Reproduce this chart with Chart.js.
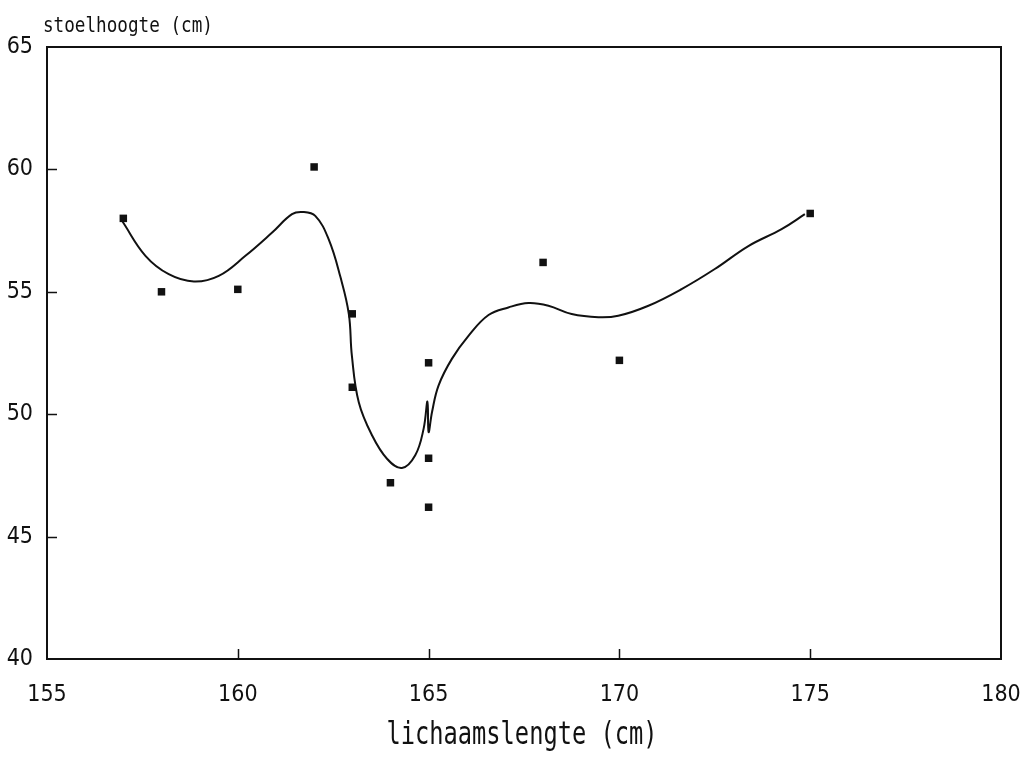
<!DOCTYPE html>
<html>
<head>
<meta charset="utf-8">
<script src="https://cdn.jsdelivr.net/npm/chart.js@4/dist/chart.umd.min.js"></script>
<style>
  html, body { margin: 0; padding: 0; background: #ffffff; }
  #wrap { width: 1024px; height: 762px; position: relative; }
</style>
</head>
<body>
<div id="wrap"><canvas id="chart_stoel"></canvas></div>
<script>
// measured points (lichaamslengte, stoelhoogte)
const lengte_points = [157, 158, 160, 162, 163, 163, 164, 165, 165, 165, 168, 170, 175];
const stoel_points = [58.0, 55.0, 55.1, 60.1, 54.1, 51.1, 47.2, 52.1, 48.2, 46.2, 56.2, 52.2, 58.2];

// smoothed curve
const curve_x = [156.97, 157.58, 158.19, 158.85, 159.5, 160.2, 160.9, 161.42, 161.7, 162.03,
    162.38, 162.69, 162.91, 162.99, 163.17, 163.52, 163.91, 164.3, 164.65, 164.87,
    164.97, 165.0, 165.09, 165.26, 165.61, 166.05, 166.57, 167.09, 167.62, 168.14,
    168.75, 169.45, 169.97, 170.76, 171.63, 172.5, 173.38, 174.25, 174.86];
const curve_y = [57.89, 56.47, 55.72, 55.42, 55.65, 56.47, 57.42, 58.17, 58.26, 58.1,
    57.15, 55.6, 54.09, 52.38, 50.49, 49.13, 48.18, 47.8, 48.32, 49.41,
    50.52, 49.27, 50.09, 51.17, 52.26, 53.21, 54.05, 54.36, 54.54, 54.43,
    54.09, 53.96, 54.02, 54.43, 55.11, 55.93, 56.87, 57.56, 58.17];

const x_ticks = [155, 160, 165, 170, 175, 180];
const y_ticks = [40, 45, 50, 55, 60, 65];

const x_title = 'lichaamslengte (cm)';
const y_title = 'stoelhoogte (cm)';

const tick_font = { family: "'Liberation Sans Narrow', 'DejaVu Sans Condensed', 'Liberation Sans', sans-serif", size: 23 };

function zip_xy(xs, ys) {
    return xs.map((x, i) => ({ x: x, y: ys[i] }));
}

// box round the plot, inward tick marks and the condensed axis titles
const frame_plugin = {
    id: 'frame_plugin',
    afterDraw(chart) {
        const ctx = chart.ctx;
        const a = chart.chartArea;
        const xs = chart.scales.x;
        const ys = chart.scales.y;
        ctx.save();
        ctx.strokeStyle = '#111';
        ctx.lineWidth = 2;
        ctx.strokeRect(a.left, a.top, a.right - a.left, a.bottom - a.top);

        ctx.lineWidth = 1.5;
        ctx.beginPath();
        x_ticks.slice(1, -1).forEach((v) => {
            const px = Math.round(xs.getPixelForValue(v)) + 0.5;
            ctx.moveTo(px, a.bottom);
            ctx.lineTo(px, a.bottom - 10);
        });
        y_ticks.slice(1, -1).forEach((v) => {
            const py = Math.round(ys.getPixelForValue(v)) + 0.5;
            ctx.moveTo(a.left, py);
            ctx.lineTo(a.left + 10, py);
        });
        ctx.stroke();

        ctx.fillStyle = '#111';
        ctx.textBaseline = 'middle';

        ctx.save();
        ctx.font = "32px 'DejaVu Sans Mono', monospace";
        ctx.textAlign = 'center';
        ctx.translate(522, 736);
        ctx.scale(0.74, 1);
        ctx.fillText(x_title, 0, 0);
        ctx.restore();

        ctx.save();
        ctx.font = "21px 'DejaVu Sans Mono', monospace";
        ctx.textAlign = 'left';
        ctx.translate(43, 27);
        ctx.scale(0.84, 1);
        ctx.fillText(y_title, 0, 0);
        ctx.restore();

        ctx.restore();
    },
};

new Chart(document.getElementById('chart_stoel').getContext('2d'), {
    type: 'scatter',
    data: {
        datasets: [
            {
                label: 'curve',
                type: 'line',
                data: zip_xy(curve_x, curve_y),
                borderColor: '#111',
                borderWidth: 2,
                pointRadius: 0,
                fill: false,
                tension: 0.4,
            },
            {
                label: 'metingen',
                data: zip_xy(lengte_points, stoel_points),
                backgroundColor: '#111',
                borderColor: '#111',
                borderWidth: 0,
                pointStyle: 'rect',
                pointRadius: 5.3,
            },
        ],
    },
    options: {
        responsive: true,
        maintainAspectRatio: false,
        animation: false,
        layout: { padding: { top: 47, right: 0, left: 0, bottom: 0 } },
        plugins: {
            legend: { display: false },
            tooltip: { enabled: false },
        },
        scales: {
            x: {
                type: 'linear',
                min: 155,
                max: 180,
                afterBuildTicks: (scale) => { scale.ticks = x_ticks.map((v) => ({ value: v })); },
                afterFit: (scale) => {
                    scale.height = 103;
                    scale.paddingLeft = 0;
                    scale.paddingRight = 23;
                },
                ticks: { color: '#111', font: tick_font, padding: 14 },
                grid: { display: false },
                border: { display: false },
            },
            y: {
                type: 'linear',
                min: 40,
                max: 65,
                afterBuildTicks: (scale) => { scale.ticks = y_ticks.map((v) => ({ value: v })); },
                afterFit: (scale) => { scale.width = 47; },
                ticks: { color: '#111', font: tick_font, padding: 6 },
                grid: { display: false },
                border: { display: false },
            },
        },
    },
    plugins: [frame_plugin],
});
</script>
</body>
</html>
